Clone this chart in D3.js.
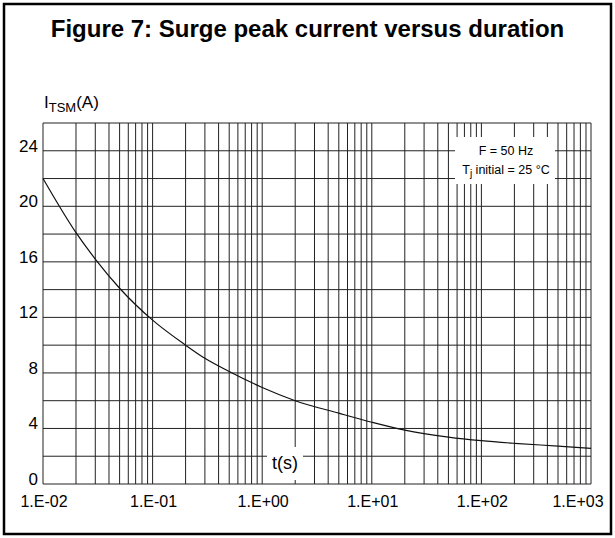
<!DOCTYPE html>
<html>
<head>
<meta charset="utf-8">
<script src="https://cdn.jsdelivr.net/npm/d3@7"></script>
<style>
  body { margin: 0; background: #fff; }
  text { font-family: "Liberation Sans", Arial, sans-serif; fill: #000; }
</style>
</head>
<body>
<div id="chart"></div>
<script>
// data
var times = [0.01, 0.02, 0.03, 0.05, 0.1, 0.2, 0.3, 0.5, 1, 2, 5, 10, 20, 50, 100, 200, 500, 1000];
var currents = [22.0, 18.1, 16.2, 14.1, 11.8, 10.0, 9.05, 8.1, 6.95, 6.0, 5.1, 4.45, 3.88, 3.38, 3.12, 2.93, 2.73, 2.57];
var xTickLabels = ["1.E-02", "1.E-01", "1.E+00", "1.E+01", "1.E+02", "1.E+03"];
var yTicks = [0, 4, 8, 12, 16, 20, 24];

var width = 615;
var height = 538;

// plot area
var plotLeft = 43, plotRight = 591, plotTop = 123, plotBottom = 484;

var svg = d3
    .select("#chart")
    .append("svg")
    .attr("width", width)
    .attr("height", height);

// outer frame
svg.append("rect")
    .attr("x", 4)
    .attr("y", 4)
    .attr("width", 607)
    .attr("height", 530)
    .attr("fill", "none")
    .attr("stroke", "#000")
    .attr("stroke-width", 2.5);

svg.append("text")
    .attr("x", width / 2)
    .attr("y", 37)
    .attr("text-anchor", "middle")
    .style("font-size", "24px")
    .style("font-weight", "bold")
    .text("Figure 7: Surge peak current versus duration");

var x = d3.scaleLog().domain([1e-2, 1e3]).range([plotLeft, plotRight]);
var y = d3.scaleLinear().domain([0, 26]).range([plotBottom, plotTop]);

// grid: every 1..9 in each decade
var vLines = [];
for (var e = -2; e < 3; e++) {
    for (var m = 1; m < 10; m++) {
        vLines.push(m * Math.pow(10, e));
    }
}
vLines.push(1e3);

var hLines = d3.range(0, 27, 2);

var grid = svg.append("g").attr("class", "grid");

grid.selectAll(".v")
    .data(vLines)
    .enter()
    .append("line")
    .attr("class", "v")
    .attr("x1", d => x(d))
    .attr("x2", d => x(d))
    .attr("y1", plotTop)
    .attr("y2", plotBottom)
    .attr("stroke", "#222")
    .attr("stroke-width", 1);

grid.selectAll(".h")
    .data(hLines)
    .enter()
    .append("line")
    .attr("class", "h")
    .attr("x1", plotLeft)
    .attr("x2", plotRight)
    .attr("y1", d => y(d))
    .attr("y2", d => y(d))
    .attr("stroke", "#222")
    .attr("stroke-width", 1);

// curve
var pts = times.map((t, i) => [t, currents[i]]);
var line = d3.line()
    .x(d => x(d[0]))
    .y(d => y(d[1]))
    .curve(d3.curveMonotoneX);

svg.append("path")
    .datum(pts)
    .attr("d", line)
    .attr("fill", "none")
    .attr("stroke", "#111")
    .attr("stroke-width", 1.2);

// y labels, baseline on the gridline
svg.selectAll(".ylab")
    .data(yTicks)
    .enter()
    .append("text")
    .attr("class", "ylab")
    .attr("x", 38)
    .attr("y", d => y(d) + 1)
    .attr("text-anchor", "end")
    .style("font-size", "17px")
    .text(d => d);

// x labels, last one pulled in
var decades = xTickLabels.map((s, i) => Math.pow(10, i - 2));
svg.selectAll(".xlab")
    .data(decades)
    .enter()
    .append("text")
    .attr("class", "xlab")
    .attr("x", (d, i) => x(d) + (i == decades.length - 1 ? -13 : 1))
    .attr("y", 507)
    .attr("text-anchor", "middle")
    .style("font-size", "16px")
    .text((d, i) => xTickLabels[i]);

// y axis title
var yTitle = svg.append("text")
    .attr("x", 44)
    .attr("y", 108)
    .style("font-size", "17px");
yTitle.append("tspan").text("I");
yTitle.append("tspan").attr("dy", 4).style("font-size", "13px").text("TSM");
yTitle.append("tspan").attr("dy", -4).text("(A)");

// x axis title on white patch
svg.append("rect")
    .attr("x", 267)
    .attr("y", 447)
    .attr("width", 36)
    .attr("height", 33)
    .attr("fill", "#fff");

svg.append("text")
    .attr("x", 285)
    .attr("y", 469)
    .attr("text-anchor", "middle")
    .style("font-size", "18px")
    .text("t(s)");

// conditions box
svg.append("rect")
    .attr("x", 455)
    .attr("y", 137)
    .attr("width", 100)
    .attr("height", 47)
    .attr("fill", "#fff");

svg.append("text")
    .attr("x", 506)
    .attr("y", 155)
    .attr("text-anchor", "middle")
    .style("font-size", "12.5px")
    .text("F = 50 Hz");

var cond = svg.append("text")
    .attr("x", 506)
    .attr("y", 174)
    .attr("text-anchor", "middle")
    .style("font-size", "12.5px");
cond.append("tspan").text("T");
cond.append("tspan").attr("dy", 3).style("font-size", "10px").text("j");
cond.append("tspan").attr("dy", -3).text(" initial = 25 °C");
</script>
</body>
</html>
